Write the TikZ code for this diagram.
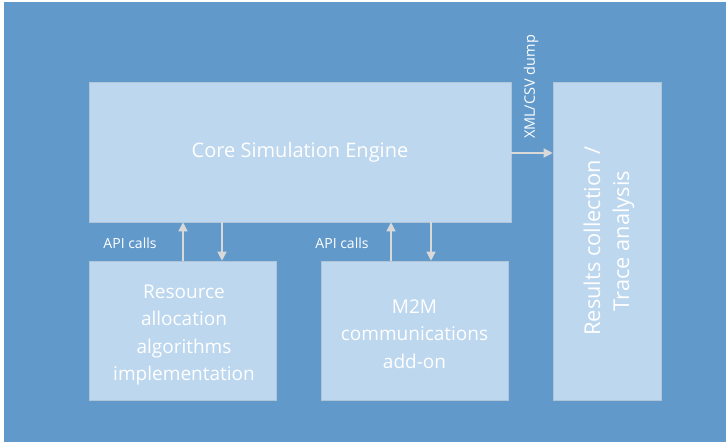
\documentclass[tikz,border=0pt]{standalone}
\usepackage{fontspec}
\setmainfont{Open Sans}
\usetikzlibrary{arrows.meta}
\definecolor{bgblue}{HTML}{6199CB}
\definecolor{boxblue}{HTML}{BDD7EE}
\definecolor{arrgray}{HTML}{D9D9D9}
\tikzset{
  blk/.style={draw=boxblue!80!gray, line width=0.6pt, fill=boxblue, inner sep=0pt},
  blktext/.style={text=white, align=center, inner sep=0pt, font=\fontsize{19}{27.6}\selectfont},
  conn/.style={draw=arrgray, line width=1.3pt, -{Triangle[length=9pt,width=9pt]}},
  lbl/.style={text=white, font=\fontsize{14}{16}\selectfont, inner sep=0pt}
}
\begin{document}
\begin{tikzpicture}[x=1pt,y=-1pt]
\useasboundingbox (0,0) rectangle (726,445);
\fill[white] (0,0) rectangle (726,445);
\fill[bgblue] (4,2) rectangle (726,442);
\node[blk, minimum width=422pt, minimum height=140pt] (core) at (300,152) {};
\node[blktext, font=\fontsize{20}{28}\selectfont] (coretxt) at (core.center) {Core Simulation Engine};
\node[blk, minimum width=108pt, minimum height=318pt] (res) at (607,241) {};
\node[blktext, rotate=90, font=\fontsize{21.8}{29}\selectfont] (restxt) at (609,241) {Results collection /\\Trace analysis};
\node[blk, minimum width=187pt, minimum height=139pt] (alloc) at (182.5,330.5) {};
\node[blktext] (alloctxt) at (184,335) {Resource\\allocation\\algorithms\\implementation};
\node[blk, minimum width=187pt, minimum height=139pt] (m2m) at (414.5,330.5) {};
\node[blktext] (m2mtxt) at (414.5,334) {M2M\\communications\\add-on};
\draw[conn] (alloc.north -| 183,0) -- (core.south -| 183,0);
\draw[conn] (core.south -| 222,0) -- (alloc.north -| 222,0);
\draw[conn] (m2m.north -| 391,0) -- (core.south -| 391,0);
\draw[conn] (core.south -| 431,0) -- (m2m.north -| 431,0);
\draw[conn] (core.east |- 0,153) -- (res.west |- 0,153);
\node[lbl, rotate=90, font=\fontsize{14.5}{16}\selectfont] (xml) at (531,87) {XML/CSV dump};
\node[lbl] (api1) at (130,243) {API calls};
\node[lbl] (api2) at (342,243) {API calls};
\end{tikzpicture}
\end{document}
